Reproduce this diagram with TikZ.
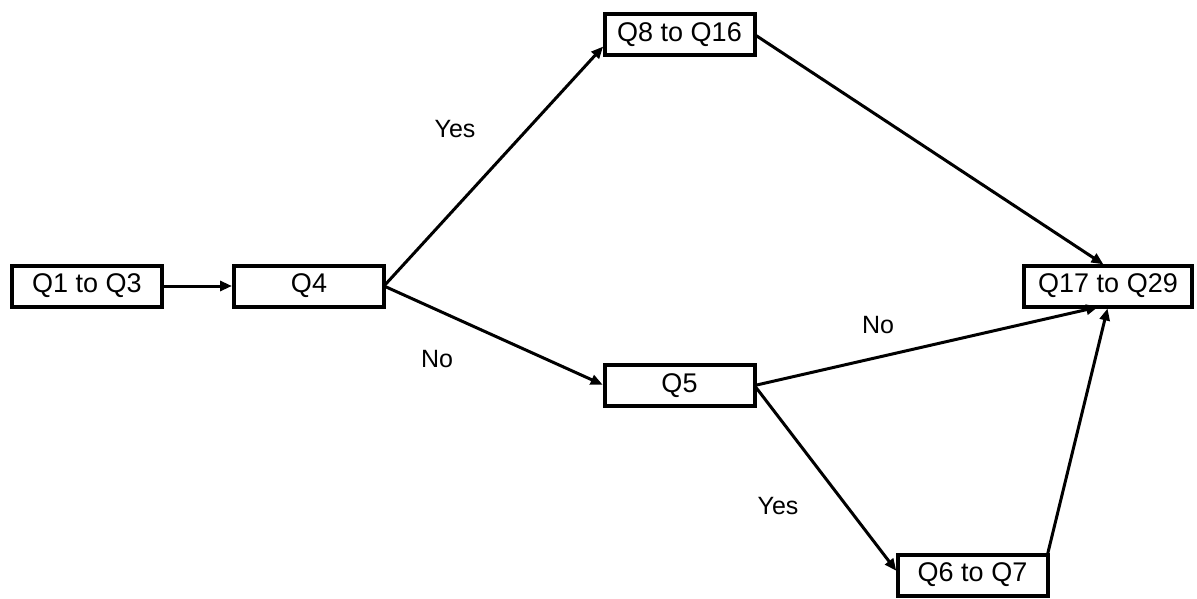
\documentclass[tikz,border=0pt]{standalone}
\usepackage{fontspec}
\setmainfont{Liberation Sans}
\usetikzlibrary{positioning, arrows.meta}

\tikzset{
  qbox/.style={draw, line width=4pt, minimum width=150pt, minimum height=41pt,
    inner sep=0pt, outer sep=0pt, font=\fontsize{27}{32}\selectfont},
  flow/.style={line width=3pt, shorten >=2pt,
    -{Triangle[length=12pt, width=10pt]}},
  answer/.style={font=\fontsize{25}{30}\selectfont}
}

\begin{document}
\begin{tikzpicture}[x=1pt, y=-1pt]
    \useasboundingbox (0,0) rectangle (1197,599);

    \node[qbox] (q1-q3) at (87,286) {Q1 to Q3};
    \node[qbox, right = 72pt of q1-q3] (q4) {Q4};
    \node[qbox] (q8-q16) at (679.5,34.5) {Q8 to Q16};
    \node[qbox] (q5) at (679.5,385.5) {Q5};
    \node[qbox, minimum width=168pt, right = 640pt of q4] (q17-q29) {Q17 to Q29};
    \node[qbox] (q6-q7) at (972.5,575) {Q6 to Q7};

    \draw[flow] (q1-q3.east) -- (q4.west);
    \draw[flow] (q4.east) -- (q8-q16.188);
    \draw[flow] (q4.east) -- (q5.west);
    \draw[flow] (q8-q16.east) -- (q17-q29.98);
    \draw[flow] (q5.east) -- (q17-q29.249);
    \draw[flow] (q5.east) -- (q6-q7.178);
    \draw[flow] (q6-q7.north east) -- (q17-q29.south);

    % branch answers
    \node[answer] (yes-q4) at (455,129) {Yes};
    \node[answer] (no-q4) at (437,359) {No};
    \node[answer] (no-q5) at (878,325) {No};
    \node[answer] (yes-q5) at (778,506) {Yes};
\end{tikzpicture}
\end{document}
